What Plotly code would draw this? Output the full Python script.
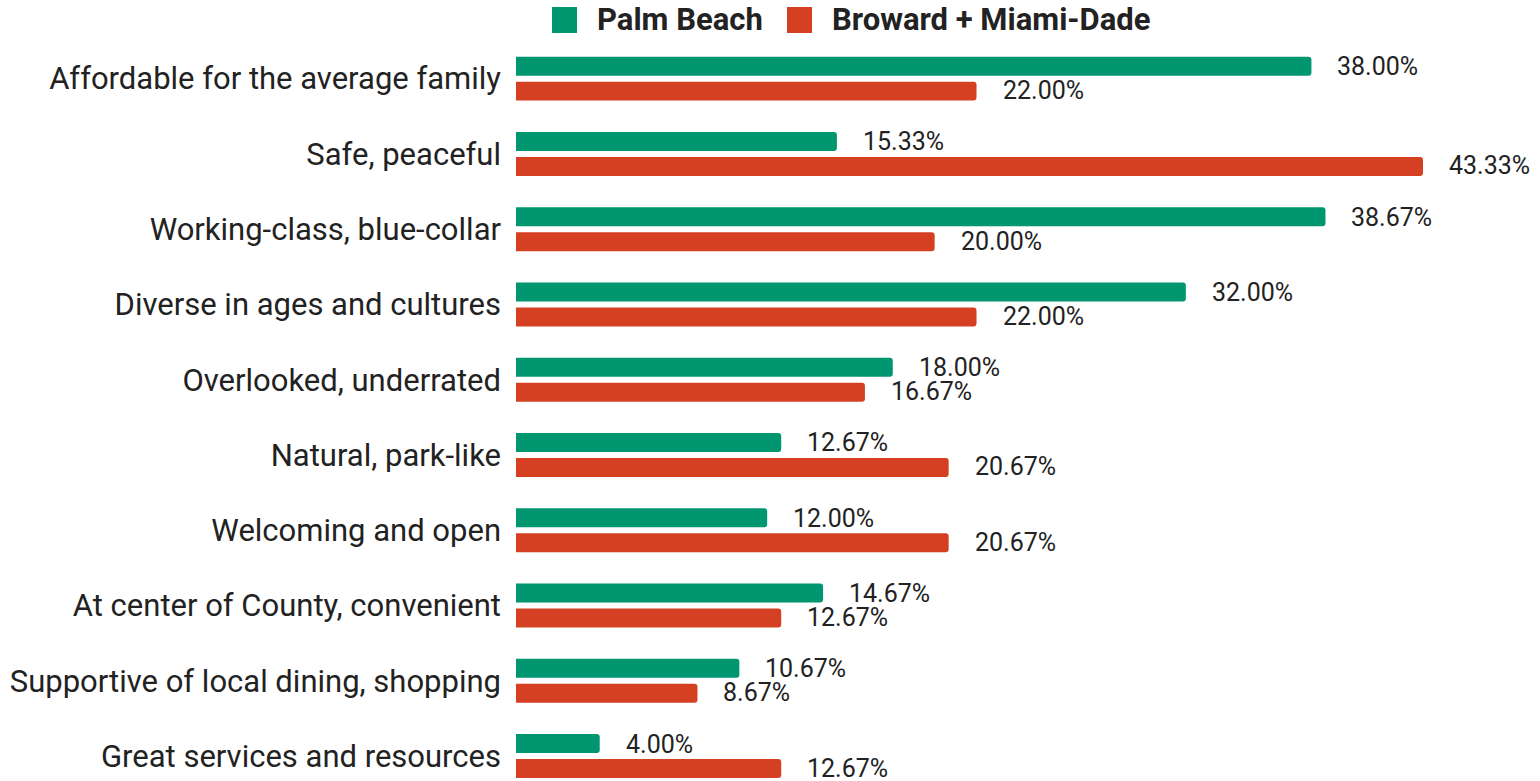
import plotly.graph_objects as go

categories = [
    "Affordable for the average family",
    "Safe, peaceful",
    "Working-class, blue-collar",
    "Diverse in ages and cultures",
    "Overlooked, underrated",
    "Natural, park-like",
    "Welcoming and open",
    "At center of County, convenient",
    "Supportive of local dining, shopping",
    "Great services and resources",
]
palm_beach = [38.00, 15.33, 38.67, 32.00, 18.00, 12.67, 12.00, 14.67, 10.67, 4.00]
broward_miami = [22.00, 43.33, 20.00, 22.00, 16.67, 20.67, 20.67, 12.67, 8.67, 12.67]
series_names = ["Palm Beach", "Broward + Miami-Dade"]

GREEN = "#009670"
RED = "#D54023"
TEXT = "#222222"
FONT = "Roboto"

W, H = 1540, 781
L, T = 516, 41
plot_h = H - T

fig = go.Figure()
for name, vals, col in [(series_names[0], palm_beach, GREEN),
                        (series_names[1], broward_miami, RED)]:
    fig.add_trace(go.Bar(
        y=categories, x=vals, name=name, orientation="h",
        marker=dict(color=col, line=dict(width=0)),
        showlegend=False, hoverinfo="x+y",
    ))

# value labels sitting to the right of each bar
annotations = []
for vals, shift in [(palm_beach, 12.0), (broward_miami, -12.0)]:
    for cat, v in zip(categories, vals):
        annotations.append(dict(
            x=v, y=cat, xref="x", yref="y", text=f"{v:.2f}%",
            showarrow=False, xanchor="left", yanchor="middle",
            xshift=24, yshift=shift,
            font=dict(family=FONT, size=25, color=TEXT),
        ))


def px_x(p):
    return (p - L) / (W - L)


def px_y(p):
    return (H - p) / plot_h


# legend drawn at the top
shapes = []
for x0, col, label in [(552, GREEN, series_names[0]), (787, RED, series_names[1])]:
    shapes.append(dict(
        type="rect", xref="paper", yref="paper",
        x0=px_x(x0), x1=px_x(x0 + 25), y0=px_y(33), y1=px_y(7),
        fillcolor=col, line=dict(width=0), layer="above",
    ))
    annotations.append(dict(
        x=px_x(x0 + 43), y=px_y(20), xref="paper", yref="paper",
        text=f"<b>{label}</b>", showarrow=False, xanchor="left", yanchor="middle",
        font=dict(family=FONT, size=31, color=TEXT),
    ))

x_max = (W - L) / ((1423 - L) / 43.33)

fig.update_layout(
    width=W, height=H,
    margin=dict(l=L, r=0, t=T, b=0, pad=0),
    paper_bgcolor="white", plot_bgcolor="white",
    barmode="group", bargap=0.336, bargroupgap=0.24,
    barcornerradius=3,
    xaxis=dict(range=[0, x_max], visible=False, fixedrange=True),
    yaxis=dict(
        categoryorder="array", categoryarray=categories,
        range=[9.332, -0.5],
        showgrid=False, zeroline=False, showline=False, ticks="",
        ticklabelstandoff=14,
        tickfont=dict(family=FONT, size=31, color=TEXT),
    ),
    shapes=shapes,
    annotations=annotations,
    font=dict(family=FONT, color=TEXT),
)

fig.write_html("out.html")
